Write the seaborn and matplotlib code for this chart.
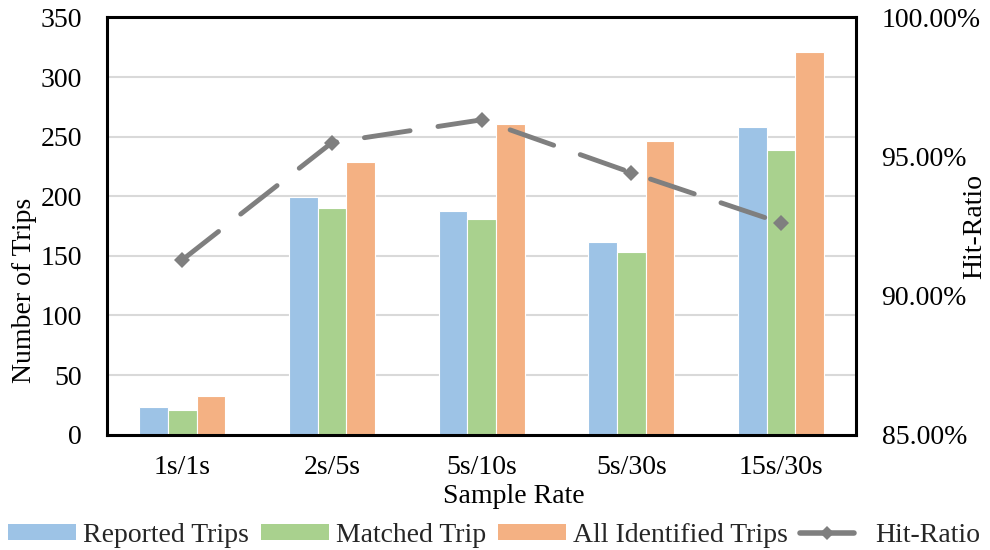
import numpy as np
import pandas as pd
import matplotlib
matplotlib.use("Agg")
import matplotlib.pyplot as plt
import seaborn as sns
from matplotlib.lines import Line2D
from matplotlib.patches import Patch
from matplotlib.legend_handler import HandlerLine2D

# Data
categories = ["1s/1s", "2s/5s", "5s/10s", "5s/30s", "15s/30s"]
reported_trips = [23, 199, 188, 162, 258]
matched_trip = [21, 190, 181, 153, 239]
all_identified_trips = [32, 229, 261, 246, 321]
hit_ratio = [91.28, 95.50, 96.32, 94.42, 92.61]  # percent

series_names = ["Reported Trips", "Matched Trip", "All Identified Trips"]
palette = ["#9DC3E6", "#A9D18E", "#F4B183"]
line_color = "#7F7F7F"

df = pd.DataFrame({
    "Sample Rate": categories * 3,
    "Trips": reported_trips + matched_trip + all_identified_trips,
    "Series": [series_names[0]] * 5 + [series_names[1]] * 5 + [series_names[2]] * 5,
})

sns.set_theme(style="white")
plt.rcParams["font.family"] = ["Liberation Serif", "DejaVu Serif"]
FS = 20

fig = plt.figure(figsize=(9.9, 5.5), dpi=100)
ax = fig.add_axes([0.1084, 0.2098, 0.7562, 0.7584])

sns.barplot(data=df, x="Sample Rate", y="Trips", hue="Series", order=categories,
            hue_order=series_names, palette=palette, width=0.575, gap=0,
            edgecolor="white", linewidth=0.8, saturation=1, legend=False, ax=ax,
            zorder=2)

ax.set_ylim(0, 350)
ax.set_yticks(np.arange(0, 351, 50))
ax.set_xlim(-0.5, 4.5)
ax.yaxis.grid(True, color="#D9D9D9", linewidth=1.5, zorder=0)
ax.set_axisbelow(True)
ax.tick_params(axis="both", length=0, labelsize=FS, colors="black")
ax.tick_params(axis="y", pad=18.4)
ax.tick_params(axis="x", pad=14.5)
for s in ax.spines.values():
    s.set_visible(True)
    s.set_color("black")
    s.set_linewidth(2.2)

ax.set_xlabel("Sample Rate", fontsize=FS, color="black")
ax.xaxis.set_label_coords(0.543, -0.118)
ax.set_ylabel("Number of Trips", fontsize=FS, color="black")
ax.yaxis.set_label_coords(-0.094, 0.3467)

# Secondary axis: hit ratio
ax2 = ax.twinx()
sns.lineplot(x=np.arange(len(categories)), y=hit_ratio, ax=ax2, color=line_color,
             linewidth=3.5, marker="D", markersize=8.5, markeredgewidth=0,
             sort=False, zorder=5)
ln = ax2.lines[0]
ln.set_linestyle((0, (9.5, 5.8)))
ln.set_dash_capstyle("round")
ax2.set_ylim(85, 100)
ax2.set_yticks([85, 90, 95, 100])
ax2.set_yticklabels([f"{v:.2f}%" for v in [85, 90, 95, 100]])
ax2.tick_params(axis="y", length=0, labelsize=FS, colors="black", pad=18.4)
ax2.set_ylabel("Hit-Ratio", fontsize=FS, color="black", rotation=90)
ax2.yaxis.set_label_coords(1.142, 0.498)
for s in ax2.spines.values():
    s.set_visible(False)
ax2.grid(False)


class ShortLineHandler(HandlerLine2D):
    """Legend line drawn shorter than the patch handles, marker at its middle."""
    def get_xdata(self, legend, xdescent, ydescent, width, height, fontsize):
        w = width * 0.79
        xdata = np.array([-xdescent, -xdescent + w])
        return xdata, np.array([-xdescent + w / 2])


handles = [Patch(facecolor=c, edgecolor="none") for c in palette]
hit_handle = Line2D([0], [0], color=line_color, linewidth=4.0, marker="D",
                    markersize=7, markeredgewidth=0, solid_capstyle="round")
handles.append(hit_handle)
fig.legend(handles, series_names + ["Hit-Ratio"], loc="center",
           bbox_to_anchor=(0.499, 0.027), ncol=4, frameon=False, fontsize=FS,
           handlelength=2.45, handleheight=0.5, handletextpad=0.25,
           columnspacing=0.43, borderpad=0.1,
           handler_map={hit_handle: ShortLineHandler()})

fig.savefig("out.png", dpi=100)
